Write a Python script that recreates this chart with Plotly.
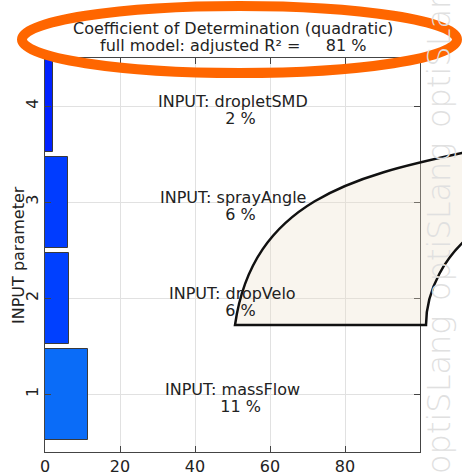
import plotly.graph_objects as go

# Coefficient of determination per input parameter (quadratic model)
param_names = ["massFlow", "dropVelo", "sprayAngle", "dropletSMD"]
param_index = [1, 2, 3, 4]
cod_percent = [11.4, 6.4, 6.2, 2.1]
bar_colors = ["#0a6cf8", "#0040ff", "#003cff", "#0022ff"]
full_model_r2 = 81
x_ticks = [0, 20, 40, 60, 80]

W, H = 462, 472
M_L, M_R, M_T, M_B = 45, 42, 58, 20
PLOT_W = W - M_L - M_R
PLOT_H = H - M_T - M_B
FONT = "DejaVu Sans"
TXT = "#222222"


def px_x(xp):
    return (xp - M_L) / PLOT_W


def px_y(yp):
    return (H - M_B - yp) / PLOT_H


def path_from(cmds):
    out = []
    for c in cmds:
        op, pts = c[0], c[1:]
        coords = " ".join(f"{px_x(a):.4f},{px_y(b):.4f}" for a, b in pts)
        out.append(f"{op} {coords}" if coords else op)
    return " ".join(out)


fig = go.Figure()
fig.add_trace(go.Bar(
    x=cod_percent,
    y=param_index,
    orientation="h",
    width=0.95,
    marker=dict(color=bar_colors, line=dict(color="#3a3a3a", width=1)),
    hoverinfo="skip",
))

annotations = []
for name, pos, val in zip(param_names, param_index, cod_percent):
    annotations.append(dict(
        x=50, y=pos, xref="x", yref="y", text=f"INPUT: {name}",
        xanchor="center", yanchor="middle",
        showarrow=False, yshift=4.5, font=dict(family=FONT, size=16, color=TXT),
    ))
    annotations.append(dict(
        x=50, y=pos, xref="x", yref="y", text="\u00a0\u00a0\u00a0" + f"{val:.0f} %",
        xanchor="center", yanchor="middle",
        showarrow=False, yshift=-12, font=dict(family=FONT, size=16, color=TXT),
    ))

# two-line heading
annotations.append(dict(
    x=0.5, y=px_y(29), xref="paper", yref="paper", xanchor="center", yanchor="middle",
    text="Coefficient of Determination (quadratic)", showarrow=False,
    font=dict(family=FONT, size=16, color=TXT),
))
annotations.append(dict(
    x=0.5, y=px_y(46), xref="paper", yref="paper", xanchor="center", yanchor="middle",
    text="full model: adjusted R² =" + "\u00a0" * 5 + f"{full_model_r2} %",
    showarrow=False, font=dict(family=FONT, size=16, color=TXT),
))

# y axis caption
annotations.append(dict(
    x=px_x(18), y=0.5, xref="paper", yref="paper", xanchor="center", yanchor="middle",
    text="INPUT parameter", textangle=-90, showarrow=False,
    font=dict(family=FONT, size=16, color=TXT),
))

# vertical watermark
for yc in [395, 222, 49]:
    annotations.append(dict(
        x=px_x(439), y=px_y(yc), xref="paper", yref="paper",
        xanchor="center", yanchor="middle",
        text="optiSLang", textangle=-90, showarrow=False,
        font=dict(family=FONT, size=32, color="#e0e0e0", weight=200),
    ))

shapes = [
    # beige decorative band
    dict(
        type="path", xref="paper", yref="paper", layer="above",
        path=path_from([
            ("M", (235, 325)),
            ("C", (252.5, 201.2), (354.4, 176.1), (462, 153)),
            ("L", (480, 149)),
            ("L", (480, 228)),
            ("L", (475, 232)),
            ("C", (445, 255), (426, 290), (426, 325)),
            ("Z",),
        ]),
        fillcolor="rgba(236,222,200,0.3)",
        line=dict(color="#111111", width=2.5),
    ),
    # orange ellipse around the heading
    dict(
        type="circle", xref="paper", yref="paper", layer="above",
        x0=px_x(22), x1=px_x(457), y0=px_y(73), y1=px_y(6),
        line=dict(color="#ff6600", width=10),
    ),
]

axis_common = dict(
    showgrid=True, gridcolor="#e1e1e1", gridwidth=1, zeroline=False,
    showline=True, linecolor="#444444", linewidth=1, mirror="ticks",
    ticks="inside", ticklen=6, tickcolor="#444444", automargin=False,
    tickfont=dict(family=FONT, size=16, color=TXT),
)

fig.update_layout(
    width=W, height=H, autosize=False,
    margin=dict(l=M_L, r=M_R, t=M_T, b=M_B, pad=0),
    paper_bgcolor="white", plot_bgcolor="white",
    showlegend=False,
    bargap=0,
    xaxis=dict(range=[0, 100], tickvals=x_ticks, **axis_common),
    yaxis=dict(range=[0.4, 4.5], tickvals=param_index, tickangle=-90, **axis_common),
    annotations=annotations,
    shapes=shapes,
)

fig.write_html("out.html")
